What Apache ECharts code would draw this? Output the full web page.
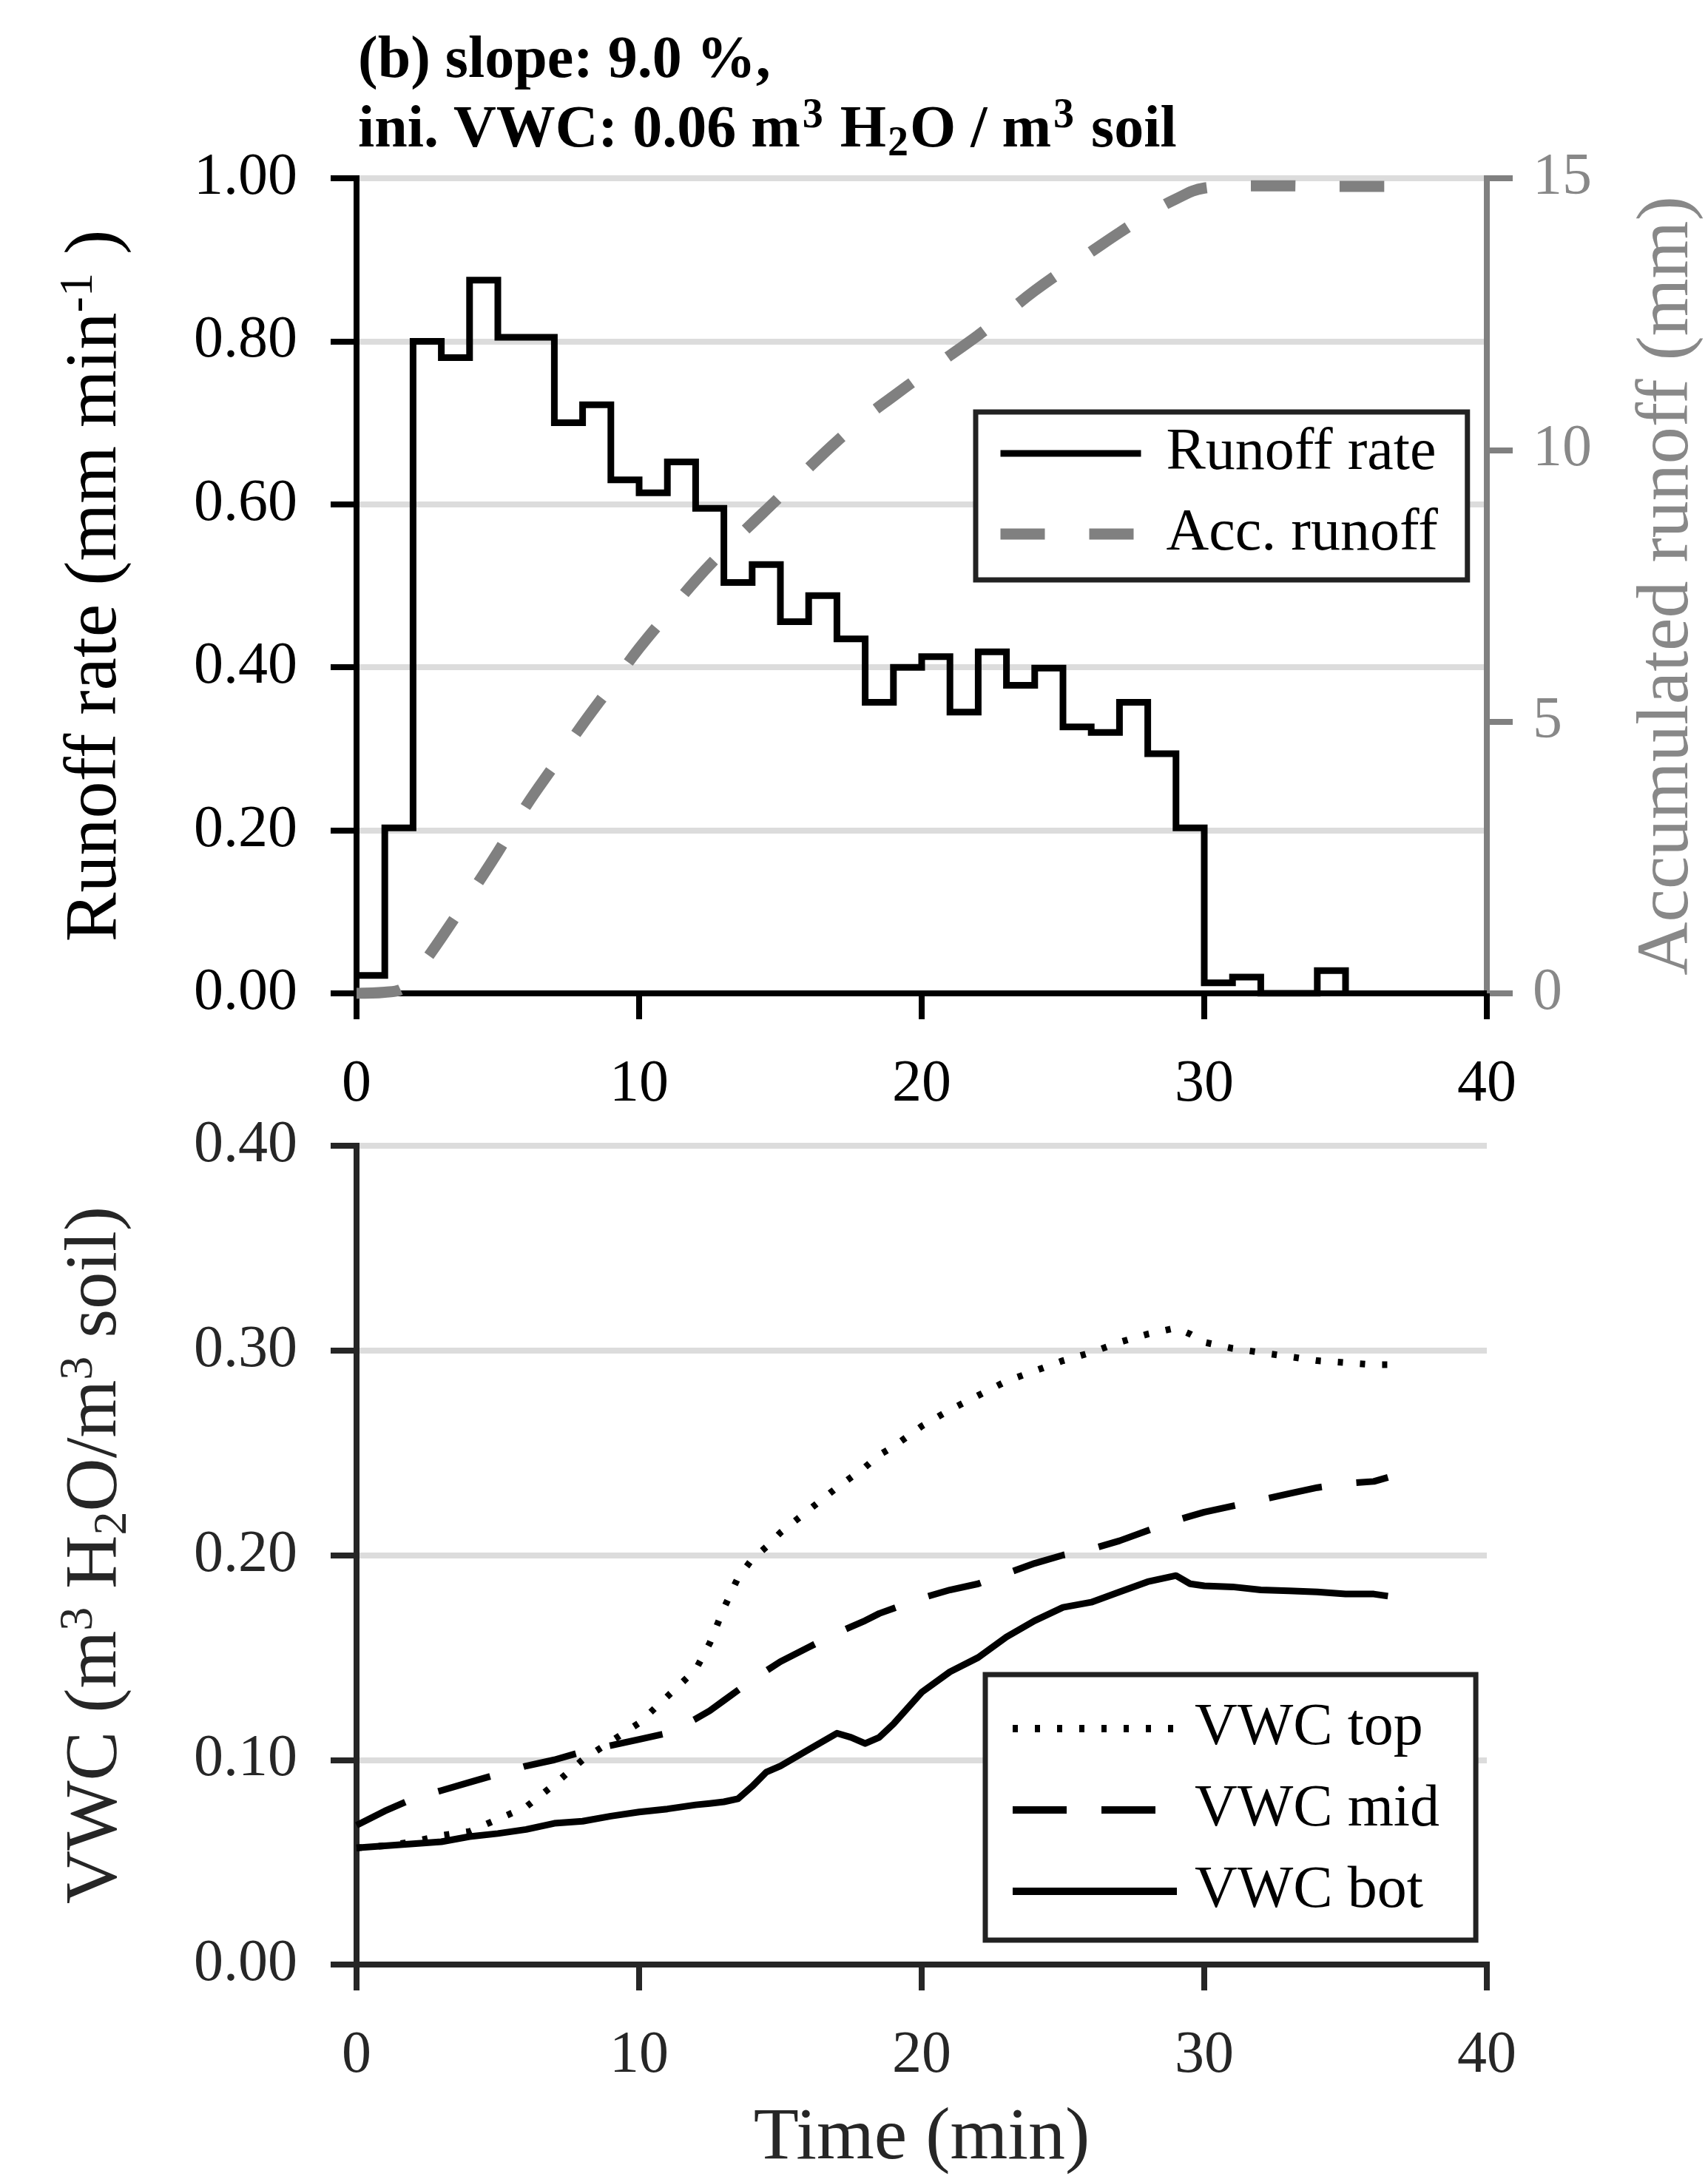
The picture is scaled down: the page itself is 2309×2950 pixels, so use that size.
<!DOCTYPE html>
<html><head><meta charset="utf-8">
<script src="https://cdn.jsdelivr.net/npm/echarts@6/dist/echarts.min.js"></script>
<style>html,body{margin:0;padding:0;background:#fff}#c{width:2309px;height:2950px}</style>
</head><body><div id="c"></div>
<script>
// ---- data ----
const xTicks = [0, 10, 20, 30, 40];
const runoffTime = [0,1,2,3,4,5,6,7,8,9,10,11,12,13,14,15,16,17,18,19,20,21,22,23,24,25,26,27,28,29,30,31,32,33,34,35];
const runoffRate = [0.022,0.203,0.800,0.780,0.875,0.805,0.805,0.700,0.722,0.630,0.614,0.652,0.595,0.504,0.526,0.456,0.488,0.435,0.357,0.400,0.413,0.345,0.419,0.378,0.399,0.327,0.320,0.357,0.294,0.203,0.013,0.020,0.000,0.000,0.028,0.000];
const accTime = [0,1,1.6,2,2.5,3,4,5,6,7,8,9,10,11,12,13,14,15,16,17,18,19,20,21,22,23,24,25,26,27,28,29,30,31,32,33,34,35,36,36.5];
const accRunoff = [0,0.02,0.08,0.30,0.65,1.02,1.80,2.60,3.45,4.20,4.95,5.65,6.35,6.98,7.60,8.15,8.65,9.15,9.67,10.16,10.60,10.99,11.37,11.74,12.11,12.52,12.93,13.30,13.65,14.00,14.33,14.62,14.82,14.85,14.86,14.86,14.85,14.85,14.85,14.85];
const vwcTime = [0,1,2,3,4,5,6,7,8,9,10,11,12,12.5,13,13.5,14,14.5,15,16,17,17.5,18,18.5,19,20,21,22,23,24,25,26,27,28,29,29.5,30,31,32,33,34,35,36,36.5];
const vwcTop = [0.057,0.058,0.060,0.063,0.065,0.071,0.077,0.088,0.100,0.109,0.118,0.131,0.144,0.157,0.174,0.189,0.198,0.204,0.211,0.222,0.233,0.238,0.243,0.249,0.253,0.263,0.271,0.278,0.285,0.290,0.295,0.299,0.304,0.308,0.311,0.308,0.304,0.301,0.299,0.297,0.295,0.294,0.293,0.293];
const vwcMid = [0.068,0.075,0.081,0.085,0.089,0.093,0.097,0.100,0.104,0.107,0.110,0.113,0.120,0.124,0.129,0.134,0.139,0.1435,0.148,0.155,0.162,0.165,0.168,0.1715,0.174,0.179,0.183,0.186,0.191,0.196,0.200,0.203,0.207,0.212,0.217,0.219,0.221,0.224,0.227,0.230,0.233,0.235,0.236,0.238];
const vwcBot = [0.057,0.058,0.059,0.060,0.0625,0.064,0.066,0.069,0.070,0.0725,0.0745,0.076,0.078,0.0787,0.0795,0.081,0.087,0.094,0.097,0.105,0.113,0.111,0.108,0.111,0.1175,0.133,0.143,0.150,0.160,0.168,0.1745,0.177,0.182,0.187,0.190,0.186,0.185,0.1845,0.183,0.1826,0.182,0.181,0.181,0.180];
const rateTicks = [0, 0.2, 0.4, 0.6, 0.8, 1.0];
const accTicks = [0, 5, 10, 15];
const vwcTicks = [0, 0.1, 0.2, 0.3, 0.4];

// ---- chart ----
const FONT = '"Liberation Serif", "Times New Roman", serif';
const chart = echarts.init(document.getElementById('c'), null, {renderer: 'canvas', width: 2309, height: 2950});
const pairs = (xs, ys) => xs.map((x, i) => [x, ys[i]]);
const GREY = '#808080';
const AX0 = '#000', AX1 = '#262626';
const HIDE = {opacity: 0, borderWidth: 0};

function xAxisCfg(grid, color, extra) {
  return Object.assign({
    gridIndex: grid, type: 'value', min: xTicks[0], max: xTicks[xTicks.length - 1],
    interval: xTicks[1] - xTicks[0],
    axisLine: {show: true, onZero: false, lineStyle: {color: color, width: 8, cap: 'square'}},
    axisTick: {show: true, inside: false, length: 35, lineStyle: {color: color, width: 8}},
    axisLabel: {show: true, margin: 84, fontSize: 80, fontFamily: FONT, color: color, showMinLabel: true, showMaxLabel: true},
    splitLine: {show: false}
  }, extra || {});
}

const option = {
  backgroundColor: '#fff',
  animation: false,
  title: {
    left: 484, top: 36, padding: 0,
    text: '{b|(b) slope: 9.0 %,}\n{b|ini. VWC: 0.06 m}{sp|3}{b| H}{sb|2}{b|O / m}{sp|3}{b| soil}',
    textStyle: {
      fontFamily: FONT, fontWeight: 'bold', fontSize: 80, lineHeight: 94, color: '#000',
      rich: {
        b: {fontFamily: FONT, fontWeight: 'bold', fontSize: 80, lineHeight: 94, color: '#000'},
        sp: {fontFamily: FONT, fontWeight: 'bold', fontSize: 56, lineHeight: 66, verticalAlign: 'top', color: '#000', padding: [0, 3, 0, 3]},
        sb: {fontFamily: FONT, fontWeight: 'bold', fontSize: 56, lineHeight: 58, verticalAlign: 'bottom', color: '#000', padding: [0, 2, 0, 2]}
      }
    }
  },
  grid: [
    {left: 482, top: 241, width: 1528, height: 1102, containLabel: false, outerBoundsMode: 'none'},
    {left: 482, top: 1549, width: 1528, height: 1107, containLabel: false, outerBoundsMode: 'none'}
  ],
  xAxis: [
    xAxisCfg(0, AX0),
    xAxisCfg(1, AX1, {
      name: 'Time (min)', nameLocation: 'middle', nameGap: 186,
      nameTextStyle: {fontSize: 100, fontFamily: FONT, color: AX1}
    })
  ],
  yAxis: [
    {
      gridIndex: 0, type: 'value', position: 'left', min: rateTicks[0], max: rateTicks[rateTicks.length - 1],
      interval: rateTicks[1] - rateTicks[0],
      name: '{n|Runoff rate (mm min}{sp|-1}{n| )}', nameLocation: 'middle', nameGap: 297, nameRotate: 90,
      nameTextStyle: {
        fontSize: 100, fontFamily: FONT, color: '#000',
        rich: {
          n: {fontSize: 100, fontFamily: FONT, color: '#000', lineHeight: 110},
          sp: {fontSize: 64, fontFamily: FONT, color: '#000', lineHeight: 72, verticalAlign: 'top'}
        }
      },
      axisLine: {show: true, onZero: false, lineStyle: {color: AX0, width: 8, cap: 'square'}},
      axisTick: {show: true, inside: false, length: 35, lineStyle: {color: AX0, width: 8}},
      axisLabel: {show: true, margin: 80, fontSize: 80, fontFamily: FONT, color: AX0,
        formatter: v => v.toFixed(2), showMinLabel: true, showMaxLabel: true},
      splitLine: {show: true, lineStyle: {color: '#dcdcdc', width: 8}}
    },
    {
      gridIndex: 0, type: 'value', position: 'right', min: accTicks[0], max: accTicks[accTicks.length - 1],
      interval: accTicks[1] - accTicks[0],
      name: 'Accumulated runoff (mm)', nameLocation: 'middle', nameGap: 190, nameRotate: 90,
      nameTextStyle: {fontSize: 100, fontFamily: FONT, color: '#888888', lineHeight: 110},
      axisLine: {show: true, onZero: false, lineStyle: {color: GREY, width: 8, cap: 'square'}},
      axisTick: {show: true, inside: false, length: 35, lineStyle: {color: GREY, width: 8}},
      axisLabel: {show: true, margin: 62, fontSize: 80, fontFamily: FONT, color: '#888888',
        showMinLabel: true, showMaxLabel: true},
      splitLine: {show: false}
    },
    {
      gridIndex: 1, type: 'value', position: 'left', min: vwcTicks[0], max: vwcTicks[vwcTicks.length - 1],
      interval: vwcTicks[1] - vwcTicks[0],
      name: '{n|VWC (m}{sp|3}{n| H}{sb|2}{n|O/m}{sp|3}{n| soil)}', nameLocation: 'middle', nameGap: 297, nameRotate: 90,
      nameTextStyle: {
        fontSize: 100, fontFamily: FONT, color: AX1,
        rich: {
          n: {fontSize: 100, fontFamily: FONT, color: AX1, lineHeight: 110},
          sp: {fontSize: 64, fontFamily: FONT, color: AX1, lineHeight: 72, verticalAlign: 'top'},
          sb: {fontSize: 64, fontFamily: FONT, color: AX1, lineHeight: 60, verticalAlign: 'bottom'}
        }
      },
      axisLine: {show: true, onZero: false, lineStyle: {color: AX1, width: 8, cap: 'square'}},
      axisTick: {show: true, inside: false, length: 35, lineStyle: {color: AX1, width: 8}},
      axisLabel: {show: true, margin: 80, fontSize: 80, fontFamily: FONT, color: AX1,
        formatter: v => v.toFixed(2), showMinLabel: true, showMaxLabel: true},
      splitLine: {show: true, lineStyle: {color: '#dcdcdc', width: 8}}
    }
  ],
  legend: [
    {
      left: 1319, top: 557, orient: 'vertical', selectedMode: false,
      padding: [16, 40, 22, 26], itemGap: 29, itemWidth: 190, itemHeight: 2,
      backgroundColor: '#fff', borderColor: '#222', borderWidth: 7, borderRadius: 0,
      itemStyle: HIDE,
      textStyle: {fontSize: 80, fontFamily: FONT, color: '#000', lineHeight: 80, padding: [0, 0, 0, 29]},
      data: [
        {name: 'Runoff rate', itemStyle: HIDE, lineStyle: {color: '#000', width: 9, type: 'solid', opacity: 1}},
        {name: 'Acc. runoff', itemStyle: HIDE, lineStyle: {color: GREY, width: 15, type: [60, 60], cap: 'butt', opacity: 1}}
      ]
    },
    {
      left: 1332, top: 2264, orient: 'vertical', selectedMode: false,
      padding: [33, 49, 26, 32], itemGap: 30, itemWidth: 222, itemHeight: 2,
      backgroundColor: '#fff', borderColor: '#222', borderWidth: 7, borderRadius: 0,
      itemStyle: HIDE,
      textStyle: {fontSize: 80, fontFamily: FONT, color: '#000', lineHeight: 80, padding: [0, 0, 0, 19]},
      data: [
        {name: 'VWC top', itemStyle: HIDE, lineStyle: {color: '#000', width: 10, type: [7, 23], cap: 'butt', opacity: 1}},
        {name: 'VWC mid', itemStyle: HIDE, lineStyle: {color: '#000', width: 10, type: [73, 47], cap: 'butt', opacity: 1}},
        {name: 'VWC bot', itemStyle: HIDE, lineStyle: {color: '#000', width: 10, type: 'solid', opacity: 1}}
      ]
    }
  ],
  series: [
    {
      name: 'Runoff rate', type: 'line', xAxisIndex: 0, yAxisIndex: 0, step: 'end',
      symbol: 'none', showSymbol: false, data: pairs(runoffTime, runoffRate),
      lineStyle: {color: '#000', width: 9, join: 'miter', cap: 'butt'}, itemStyle: {color: '#000'}, z: 3
    },
    {
      name: 'Acc. runoff', type: 'line', xAxisIndex: 0, yAxisIndex: 1, smooth: 0.4,
      symbol: 'none', showSymbol: false, data: pairs(accTime, accRunoff),
      lineStyle: {color: GREY, width: 15, type: [60, 60], cap: 'butt'}, itemStyle: {color: GREY}, z: 4
    },
    {
      name: 'VWC top', type: 'line', xAxisIndex: 1, yAxisIndex: 2,
      symbol: 'none', showSymbol: false, data: pairs(vwcTime, vwcTop),
      lineStyle: {color: '#000', width: 9, type: [7, 23], cap: 'butt'}, itemStyle: {color: '#000'}
    },
    {
      name: 'VWC mid', type: 'line', xAxisIndex: 1, yAxisIndex: 2,
      symbol: 'none', showSymbol: false, data: pairs(vwcTime, vwcMid),
      lineStyle: {color: '#000', width: 9, type: [73, 47], cap: 'butt'}, itemStyle: {color: '#000'}
    },
    {
      name: 'VWC bot', type: 'line', xAxisIndex: 1, yAxisIndex: 2,
      symbol: 'none', showSymbol: false, data: pairs(vwcTime, vwcBot),
      lineStyle: {color: '#000', width: 9, join: 'round'}, itemStyle: {color: '#000'}
    }
  ]
};
chart.setOption(option);
</script>
</body></html>
